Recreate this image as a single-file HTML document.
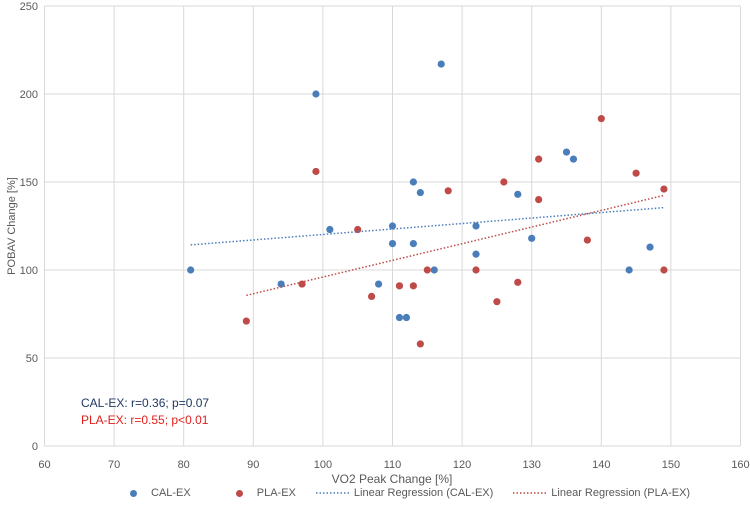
<!DOCTYPE html>
<html><head><meta charset="utf-8"><style>
body{margin:0;background:#fff;font-family:"Liberation Sans",sans-serif;}
svg text{font-family:"Liberation Sans",sans-serif;}
</style></head><body>
<svg id="chart" width="750" height="514" xmlns="http://www.w3.org/2000/svg" style="position:absolute;left:0;top:0;"></svg>
<script>
const xTicks=[60,70,80,90,100,110,120,130,140,150,160];
const yTicks=[0,50,100,150,200,250];
const calX=[81,94,99,101,108,110,110,111,112,113,113,114,116,117,122,122,128,130,135,136,144,147];
const calY=[100,92,200,123,92,125,115,73,73,150,115,144,100,217,125,109,143,118,167,163,100,113];
const plaX=[89,97,99,105,107,111,113,114,115,118,122,125,126,128,131,131,138,140,145,149,149];
const plaY=[71,92,156,123,85,91,91,58,100,145,100,82,150,93,163,140,117,186,155,146,100];
const NS="http://www.w3.org/2000/svg";
const svg=document.getElementById('chart');
const X0=44.5,X1=740.5,Y0=446,Y1=6;
const sx=v=>X0+(v-60)/100*(X1-X0);
const sy=v=>Y0-(v/250)*(Y0-Y1);
function mk(t,a,p){const e=document.createElementNS(NS,t);for(const k in a)e.setAttribute(k,a[k]);(p||svg).appendChild(e);return e;}
xTicks.forEach(t=>{
 const l=mk('line',{x1:sx(t),x2:sx(t),y1:Y1,y2:Y0,stroke:'#d9d9d9','stroke-width':1});
 
 
 const tx=mk('text',{x:sx(t),y:468,'text-anchor':'middle','font-size':11,fill:'#595959'});tx.textContent=t;
 
 
});
yTicks.forEach(t=>{
 const l=mk('line',{x1:X0,x2:X1,y1:sy(t),y2:sy(t),stroke:'#d9d9d9','stroke-width':1});
 
 
 const tx=mk('text',{x:38,y:sy(t)+4,'text-anchor':'end','font-size':11,fill:'#595959'});tx.textContent=t;
 
 
});
function reg(xs,ys,color,name,hiX){
 const n=xs.length,mx=xs.reduce((a,b)=>a+b)/n,my=ys.reduce((a,b)=>a+b)/n;
 let sxy=0,sxx=0;for(let i=0;i<n;i++){sxy+=(xs[i]-mx)*(ys[i]-my);sxx+=(xs[i]-mx)**2;}
 const b=sxy/sxx,a=my-b*mx,lo=Math.min(...xs),hi=Math.max(hiX,...xs);
 const l=mk('line',{x1:sx(lo),y1:sy(a+b*lo),x2:sx(hi),y2:sy(a+b*hi),stroke:color,'stroke-width':1.5,'stroke-dasharray':'1.5,2'});
 
 
}
function pts(xs,ys,color,name){
 xs.forEach((x,i)=>{const c=mk('circle',{cx:sx(x),cy:sy(ys[i]),r:3.6,fill:color});
 
 });
}
pts(calX,calY,'#4a7ebb','cal-ex-point');
pts(plaX,plaY,'#be4b48','pla-ex-point');
const allMax=Math.max(...calX,...plaX);
reg(calX,calY,'#4a7ebb','cal-ex-regression-line',allMax);
reg(plaX,plaY,'#be4b48','pla-ex-regression-line',allMax);
</script>
<div style="position:absolute;left:12px;top:226px;transform:translate(-50%,-50%) rotate(-90deg);font-size:11px;color:#595959;white-space:nowrap;">POBAV Change [%]</div>
<div style="position:absolute;left:392px;top:472px;transform:translateX(-50%);font-size:12px;color:#595959;white-space:nowrap;">VO2 Peak Change [%]</div>
<div style="position:absolute;left:81px;top:396px;font-size:12px;color:#1f3864;">CAL-EX: r=0.36; p=0.07</div>
<div style="position:absolute;left:81px;top:413px;font-size:12px;color:#e0201b;">PLA-EX: r=0.55; p&lt;0.01</div>
<div style="position:absolute;left:130px;top:486px;height:14px;font-size:11px;color:#595959;white-space:nowrap;display:flex;align-items:center;">
 <span style="display:flex;align-items:center;margin-right:45px;"><span style="width:7px;height:7px;border-radius:50%;background:#4a7ebb;margin-right:14px;"></span>CAL-EX</span>
 <span style="display:flex;align-items:center;margin-right:20px;"><span style="width:7px;height:7px;border-radius:50%;background:#be4b48;margin-right:14px;"></span>PLA-EX</span>
 <span style="display:flex;align-items:center;margin-right:20px;"><svg width="34" height="4" style="margin-right:4px"><line x1="0" y1="2" x2="34" y2="2" stroke="#4a7ebb" stroke-width="1.5" stroke-dasharray="1.5,2"/></svg>Linear Regression (CAL-EX)</span>
 <span style="display:flex;align-items:center;"><svg width="34" height="4" style="margin-right:4px"><line x1="0" y1="2" x2="34" y2="2" stroke="#be4b48" stroke-width="1.5" stroke-dasharray="1.5,2"/></svg>Linear Regression (PLA-EX)</span>
</div>
</body></html>
